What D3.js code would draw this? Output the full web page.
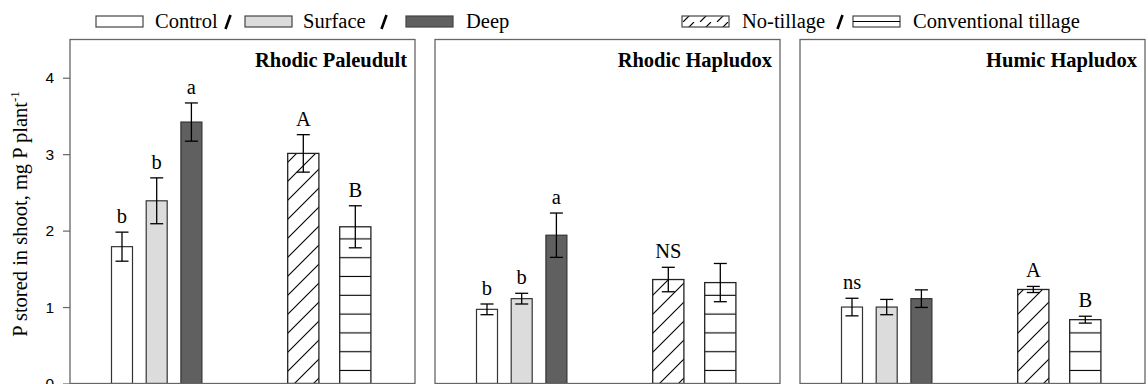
<!DOCTYPE html>
<html>
<head>
<meta charset="utf-8">
<script src="https://cdn.jsdelivr.net/npm/d3@7"></script>
<style>
  html, body { margin: 0; padding: 0; background: #fff; }
  svg { display: block; }
</style>
</head>
<body>
<svg id="chart" width="1148" height="384"></svg>
<script>
// ---------------- data ----------------
const panels = ["Rhodic Paleudult", "Rhodic Hapludox", "Humic Hapludox"];
const treatments = ["Control", "Surface", "Deep"];
const tillages = ["No-tillage", "Conventional tillage"];

const treatmentMeans = [[1.79, 2.39, 3.42], [0.97, 1.11, 1.94], [1.00, 1.00, 1.11]];
const treatmentErr   = [[0.19, 0.30, 0.25], [0.07, 0.07, 0.29], [0.115, 0.10, 0.115]];
const treatmentLetters = [["b", "b", "a"], ["b", "b", "a"], ["ns", "", ""]];

const tillageMeans = [[3.01, 2.05], [1.36, 1.32], [1.23, 0.835]];
const tillageErr   = [[0.245, 0.275], [0.16, 0.25], [0.04, 0.045]];
const tillageLetters = [["A", "B"], ["NS", ""], ["A", "B"]];

const yTicks = [0, 1, 2, 3, 4];
const yLabel = "P stored in shoot, mg P plant";
const yLabelSup = "-1";

// ---------------- layout ----------------
const svg = d3.select("#chart");
const serif = "'Liberation Serif', 'Times New Roman', serif";
const sans = "'Liberation Sans', Arial, sans-serif";
const frameColor = "#666";

const y = d3.scaleLinear().domain([0, 4.5]).range([383.5, 39.5]);
const panelX = d3.scaleBand().domain(panels).range([70, 1145]).paddingInner(20 / 365);
const xTreat = d3.scaleBand().domain(treatments).range([41.5, 131.9]).paddingInner(0.395).paddingOuter(0);
const xTill = d3.scaleBand().domain(tillages).range([217.7, 300.9]).paddingInner(0.4).paddingOuter(0);

const treatFill = { "Control": "#ffffff", "Surface": "#dcdcdc", "Deep": "#606060" };

// patterns
const defs = svg.append("defs");
const diag = defs.append("pattern").attr("id", "diag")
  .attr("patternUnits", "userSpaceOnUse").attr("width", 19).attr("height", 19);
diag.append("rect").attr("width", 19).attr("height", 19).attr("fill", "#fff");
diag.append("path").attr("d", "M-1,20 L20,-1 M-5,5 L5,-5 M14,24 L24,14")
  .attr("stroke", "#000").attr("stroke-width", 1.1).attr("fill", "none");

const horiz = defs.append("pattern").attr("id", "horiz")
  .attr("patternUnits", "userSpaceOnUse").attr("width", 10).attr("height", 18.8);
horiz.append("rect").attr("width", 10).attr("height", 18.8).attr("fill", "#fff");
horiz.append("line").attr("x1", 0).attr("x2", 10).attr("y1", 13.3).attr("y2", 13.3)
  .attr("stroke", "#000").attr("stroke-width", 1.1);

const legDiag = defs.append("pattern").attr("id", "legdiag")
  .attr("patternUnits", "userSpaceOnUse").attr("width", 17).attr("height", 11);
legDiag.append("rect").attr("width", 17).attr("height", 11).attr("fill", "#fff");
legDiag.append("path").attr("d", "M3,11 L14,0")
  .attr("stroke", "#000").attr("stroke-width", 1.1).attr("fill", "none");

const tillFill = { "No-tillage": "url(#diag)", "Conventional tillage": "url(#horiz)" };

// ---------------- panels ----------------
panels.forEach((p, pi) => {
  const g = svg.append("g").attr("transform", `translate(${panelX(p)},0)`);
  const w = panelX.bandwidth();

  treatments.forEach((t, ti) => {
    const v = treatmentMeans[pi][ti], e = treatmentErr[pi][ti];
    const cx = xTreat(t) + xTreat.bandwidth() / 2;
    g.append("rect")
      .attr("x", xTreat(t)).attr("width", xTreat.bandwidth())
      .attr("y", y(v)).attr("height", y(0) - y(v))
      .attr("fill", treatFill[t]).attr("stroke", "#333").attr("stroke-width", 1.2);
    drawErr(g, cx, v, e);
    if (treatmentLetters[pi][ti]) {
      g.append("text").attr("x", cx).attr("y", y(v + e) - 9)
        .attr("text-anchor", "middle").attr("font-family", serif).attr("font-size", 20.5)
        .text(treatmentLetters[pi][ti]);
    }
  });

  tillages.forEach((t, ti) => {
    const v = tillageMeans[pi][ti], e = tillageErr[pi][ti];
    const cx = xTill(t) + xTill.bandwidth() / 2;
    g.append("rect")
      .attr("x", xTill(t)).attr("width", xTill.bandwidth())
      .attr("y", y(v)).attr("height", y(0) - y(v))
      .attr("fill", tillFill[t]).attr("stroke", "#222").attr("stroke-width", 1.3);
    drawErr(g, cx, v, e);
    if (tillageLetters[pi][ti]) {
      g.append("text").attr("x", cx).attr("y", y(v + e) - 9)
        .attr("text-anchor", "middle").attr("font-family", serif).attr("font-size", 20.5)
        .text(tillageLetters[pi][ti]);
    }
  });

  g.append("rect").attr("x", 0).attr("y", y(4.5)).attr("width", w).attr("height", y(0) - y(4.5))
    .attr("fill", "none").attr("stroke", frameColor).attr("stroke-width", 1.3);

  g.append("text").attr("x", w - 8).attr("y", 67)
    .attr("text-anchor", "end").attr("font-family", serif).attr("font-weight", "bold")
    .attr("font-size", 20.5).text(p);
});

function drawErr(g, cx, v, e) {
  const cap = 6.5;
  g.append("line").attr("x1", cx).attr("x2", cx).attr("y1", y(v - e)).attr("y2", y(v + e))
    .attr("stroke", "#000").attr("stroke-width", 1.3);
  [v - e, v + e].forEach(yy => {
    g.append("line").attr("x1", cx - cap).attr("x2", cx + cap).attr("y1", y(yy)).attr("y2", y(yy))
      .attr("stroke", "#000").attr("stroke-width", 1.3);
  });
}

// ---------------- y axis ----------------
const axis = svg.append("g").attr("transform", `translate(${panelX(panels[0])},0)`)
  .call(d3.axisLeft(y).tickValues(yTicks).tickSize(7).tickPadding(9).tickFormat(d3.format("d")));
axis.select(".domain").remove();
axis.selectAll(".tick line").attr("stroke", frameColor).attr("stroke-width", 1.2);
axis.selectAll(".tick text").attr("font-family", sans).attr("font-size", 15.5).attr("fill", "#000");

const yl = svg.append("text")
  .attr("transform", `translate(27,${(90 + 338) / 2}) rotate(-90)`)
  .attr("text-anchor", "middle").attr("font-family", serif).attr("font-size", 20.5);
yl.append("tspan").text(yLabel);
yl.append("tspan").attr("font-size", 13).attr("dy", -8).text(yLabelSup);

// ---------------- legend ----------------
const legendItems = [
  { label: treatments[0], fill: treatFill.Control, box: 96, text: 155, sep: 228 },
  { label: treatments[1], fill: treatFill.Surface, box: 245, text: 303, sep: 384 },
  { label: treatments[2], fill: treatFill.Deep, box: 406, text: 466, sep: null },
  { label: tillages[0], fill: "url(#legdiag)", box: 682, text: 742, sep: 840 },
  { label: tillages[1], fill: "#fff", box: 853, text: 913, sep: null, hline: true }
];
const lg = svg.append("g");
legendItems.forEach(it => {
  lg.append("rect").attr("x", it.box).attr("y", 16).attr("width", 47).attr("height", 11)
    .attr("fill", it.fill).attr("stroke", "#444").attr("stroke-width", 1.2);
  if (it.hline) {
    lg.append("line").attr("x1", it.box).attr("x2", it.box + 47).attr("y1", 21.5).attr("y2", 21.5)
      .attr("stroke", "#000").attr("stroke-width", 1.1);
  }
  lg.append("text").attr("x", it.text).attr("y", 28).attr("font-family", serif)
    .attr("font-size", 20.5).text(it.label);
  if (it.sep !== null) {
    lg.append("path")
      .attr("d", `M${it.sep - 2.5},29 L${it.sep + 2.5},15`)
      .attr("stroke", "#000").attr("stroke-width", 2.6).attr("fill", "none");
  }
});
</script>
</body>
</html>
